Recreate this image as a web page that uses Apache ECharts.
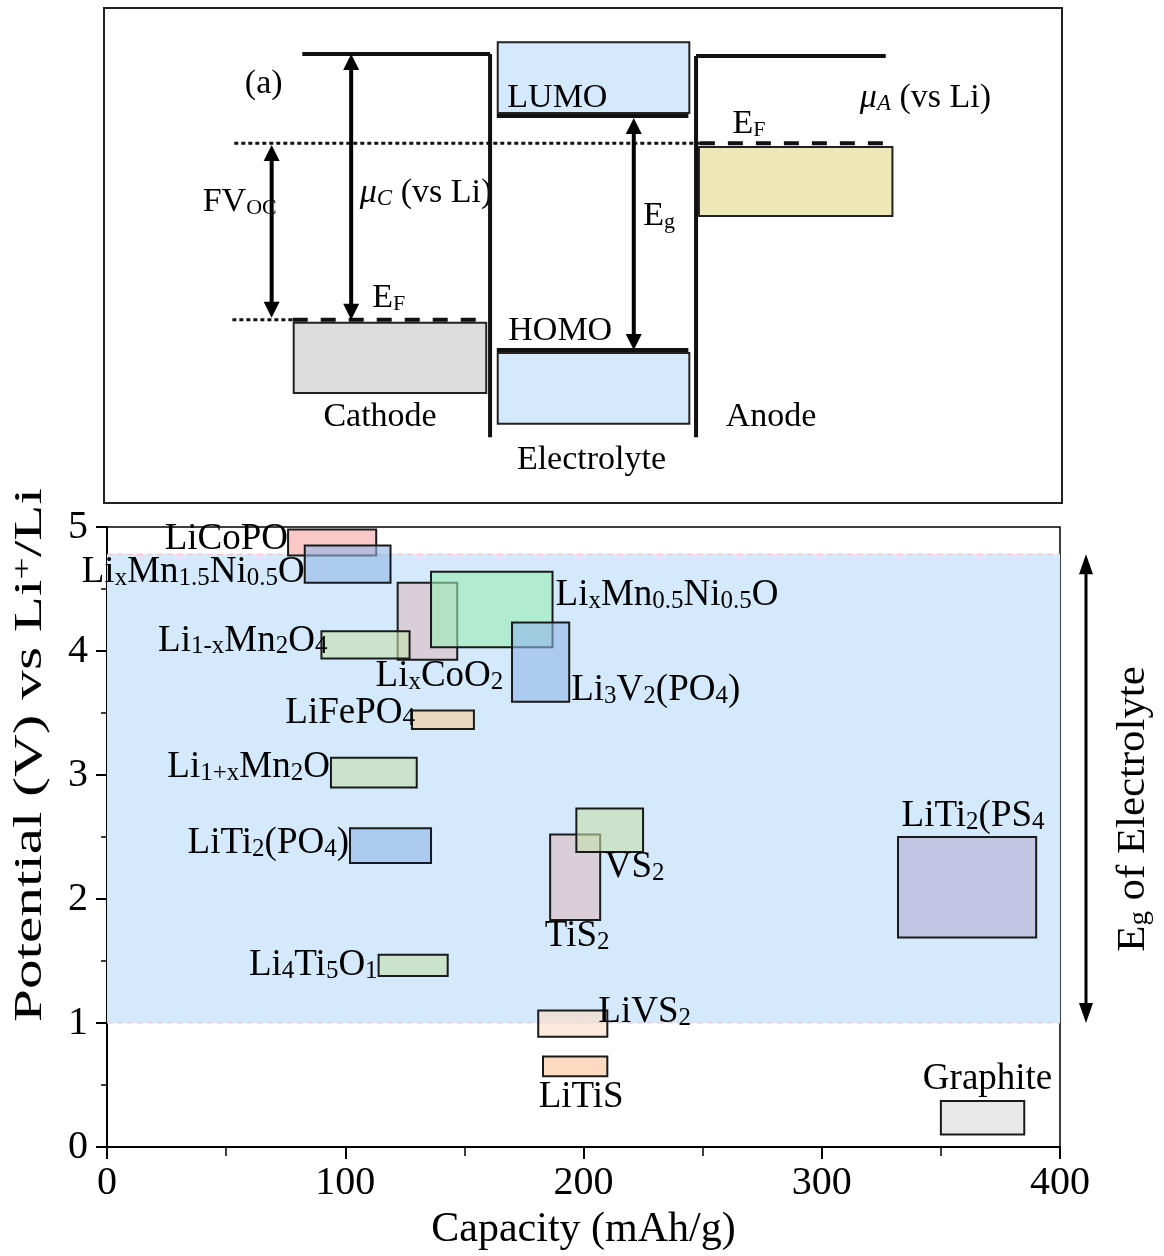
<!DOCTYPE html>
<html>
<head>
<meta charset="utf-8">
<script src="https://cdn.jsdelivr.net/npm/echarts@6/dist/echarts.min.js"></script>
<style>
  html, body { margin: 0; padding: 0; background: #fff; }
  #chart { width: 1164px; height: 1256px; }
</style>
</head>
<body>
<div id="chart"></div>
<script>
const SERIF = '"Liberation Serif", "Times New Roman", serif';

// ---------- panel (b): electrode materials ----------
const materials = ['LiCoPO4', 'LixMn1.5Ni0.5O4', 'LixCoO2', 'LixMn0.5Ni0.5O2', 'Li3V2(PO4)3',
  'Li1-xMn2O4', 'LiFePO4', 'Li1+xMn2O4', 'LiTi2(PO4)3', 'TiS2', 'VS2', 'LiTi2(PS4)3',
  'Li4Ti5O12', 'LiVS2', 'LiTiS2', 'Graphite'];
// labels as printed in the figure (some are cut off there)
const labels = [
  '{m|LiCoPO}',
  '{m|Li}{s|x}{m|Mn}{s|1.5}{m|Ni}{s|0.5}{m|O}',
  '{m|Li}{s|x}{m|CoO}{s|2}',
  '{m|Li}{s|x}{m|Mn}{s|0.5}{m|Ni}{s|0.5}{m|O}',
  '{m|Li}{s|3}{m|V}{s|2}{m|(PO}{s|4}{m|)}',
  '{m|Li}{s|1-x}{m|Mn}{s|2}{m|O}{s|4}',
  '{m|LiFePO}{s|4}',
  '{m|Li}{s|1+x}{m|Mn}{s|2}{m|O}',
  '{m|LiTi}{s|2}{m|(PO}{s|4}{m|)}',
  '{m|TiS}{s|2}',
  '{m|VS}{s|2}',
  '{m|LiTi}{s|2}{m|(PS}{s|4}',
  '{m|Li}{s|4}{m|Ti}{s|5}{m|O}{s|1}',
  '{m|LiVS}{s|2}',
  '{m|LiTiS}',
  '{m|Graphite}'
];
const capLo  = [76, 83, 122, 136, 170, 90, 128, 94, 102, 186, 197, 332, 114, 181, 183, 350];
const capHi  = [113, 119, 147, 187, 194, 127, 154, 130, 136, 207, 225, 390, 143, 210, 210, 385];
const voltLo = [4.77, 4.55, 3.93, 4.03, 3.59, 3.94, 3.37, 2.90, 2.29, 1.83, 2.38, 1.69, 1.38, 0.89, 0.57, 0.10];
const voltHi = [4.98, 4.85, 4.55, 4.64, 4.23, 4.16, 3.52, 3.14, 2.57, 2.52, 2.73, 2.50, 1.55, 1.10, 0.73, 0.37];
const eWindow = [1.0, 4.78];   // electrolyte stability window (V)

// styles for panel (b)
const fills = [
  'rgba(248,163,163,0.6)', 'rgba(145,182,230,0.6)', 'rgba(222,189,194,0.6)', 'rgba(155,237,179,0.6)',
  'rgba(145,182,230,0.6)', 'rgba(197,221,170,0.6)', 'rgba(249,201,152,0.6)', 'rgba(197,221,170,0.6)',
  'rgba(145,182,230,0.6)', 'rgba(222,189,194,0.6)', 'rgba(197,221,170,0.6)', 'rgba(182,171,211,0.6)',
  'rgba(197,221,170,0.6)', 'rgba(252,220,196,0.6)', 'rgba(250,193,153,0.6)', 'rgba(217,217,217,0.6)'
];
const labelSide = ['left', 'left', 'bottom', 'right', 'right', 'left', 'left', 'left',
  'left', 'bottom', 'bottom', 'top', 'left', 'right', 'bottom', 'top'];
const labelShift = [[0, -3], [0, 8], [12, -2], [3, -14], [2, 28], [6, -4], [3, -7], [-1, -5],
  [-1, -2], [2, -2], [25, -3], [6, -2], [-1, 0], [-9, -11], [6, 2], [5, -3]];

// ---------- panel (a): energy diagram, in diagram units (0-100) ----------
const levelLines = [
  [20.7, 90.7, 40.3, 90.7], [40.3, 90.7, 40.3, 13.3],
  [61.8, 90.3, 81.6, 90.3], [61.8, 90.3, 61.8, 13.3],
  [41.0, 78.2, 61.0, 78.2], [41.0, 30.9, 61.0, 30.9]
];
const dottedLines = [[13.6, 72.7, 62.2, 72.7], [13.4, 37.0, 19.7, 37.0]];
const dashedLines = [[62.2, 72.7, 81.5, 72.7], [19.7, 37.0, 39.4, 37.0]];
const arrows = [[17.5, 72.3, 17.5, 37.4], [25.8, 90.7, 25.8, 37.0], [55.3, 77.8, 55.3, 30.9]];
const boxes = [[41.1, 93.1, 61.1, 78.8], [41.1, 30.3, 61.1, 16.0], [19.8, 36.4, 39.9, 22.2], [62.1, 71.9, 82.3, 58.0]];
const boxFills = ['#d4eafc', '#d4eafc', '#dcdcdc', '#eee8b6'];
const schemTexts = [
  '{m|(a)}', '{m|LUMO}', '{i|μ}{is|A}{m| (vs Li)}', '{m|E}{s|F}', '{m|FV}{s|OC}',
  '{i|μ}{is|C}{m| (vs Li)}', '{m|E}{s|g}', '{m|E}{s|F}', '{m|HOMO}',
  '{m|Cathode}', '{m|Electrolyte}', '{m|Anode}'
];
const schemTextPos = [[14.7, 84.6], [42.1, 81.8], [78.9, 81.8], [65.6, 76.6], [10.3, 60.8],
  [26.7, 62.6], [56.3, 58.0], [28.0, 41.4], [42.2, 34.7], [22.9, 17.4], [43.1, 8.7], [64.9, 17.4]];

const labRich = {
  m: { fontFamily: SERIF, fontSize: 37, lineHeight: 37, verticalAlign: 'bottom', color: '#000' },
  s: { fontFamily: SERIF, fontSize: 25, lineHeight: 11, verticalAlign: 'bottom', color: '#000' }
};
const aRich = {
  m: { fontFamily: SERIF, fontSize: 34, lineHeight: 34, verticalAlign: 'bottom', color: '#000' },
  s: { fontFamily: SERIF, fontSize: 22, lineHeight: 12, verticalAlign: 'bottom', color: '#000' },
  i: { fontFamily: SERIF, fontStyle: 'italic', fontSize: 34, lineHeight: 34, verticalAlign: 'bottom', color: '#000' },
  is: { fontFamily: SERIF, fontStyle: 'italic', fontSize: 23, lineHeight: 14, verticalAlign: 'bottom', color: '#000' }
};
const titleRich = {
  m: { fontFamily: SERIF, fontSize: 40, lineHeight: 40, verticalAlign: 'bottom', color: '#000' },
  s: { fontFamily: SERIF, fontSize: 27, lineHeight: 14, verticalAlign: 'bottom', color: '#000' },
  p: { fontFamily: SERIF, fontSize: 27, lineHeight: 14, verticalAlign: 'top', color: '#000' }
};

const chart = echarts.init(document.getElementById('chart'), null, { renderer: 'canvas' });

function renderMaterial(params, api) {
  const i = params.dataIndex;
  const tl = api.coord([api.value(0), api.value(3)]);
  const br = api.coord([api.value(1), api.value(2)]);
  const x = tl[0], y = tl[1], w = br[0] - tl[0], h = br[1] - tl[1];
  let tx, ty, align, va;
  const side = labelSide[i];
  if (side === 'left') { tx = x; ty = y + h / 2; align = 'right'; va = 'middle'; }
  else if (side === 'right') { tx = x + w; ty = y + h / 2; align = 'left'; va = 'middle'; }
  else if (side === 'bottom') { tx = x + w / 2; ty = y + h; align = 'center'; va = 'top'; }
  else { tx = x + w / 2; ty = y; align = 'center'; va = 'bottom'; }
  return {
    type: 'group',
    children: [
      { type: 'rect', z2: 1, shape: { x: x, y: y, width: w, height: h },
        style: { fill: fills[i], stroke: '#1a1a1a', lineWidth: 2 } },
      { type: 'text', z2: 100,
        style: { x: tx + labelShift[i][0], y: ty + labelShift[i][1], text: labels[i], rich: labRich,
                 align: align, verticalAlign: va } }
    ]
  };
}

function renderWindow(params, api) {
  const tl = api.coord([api.value(0), api.value(3)]);
  const br = api.coord([api.value(1), api.value(2)]);
  const ax = br[0] + 26;
  const dash = { stroke: '#f4c4c4', lineWidth: 1.2, lineDash: [6, 4] };
  return {
    type: 'group',
    children: [
      { type: 'rect', shape: { x: tl[0], y: tl[1], width: br[0] - tl[0], height: br[1] - tl[1] },
        style: { fill: '#d4eafc' } },
      { type: 'line', shape: { x1: tl[0], y1: tl[1], x2: br[0], y2: tl[1] }, style: dash },
      { type: 'line', shape: { x1: tl[0], y1: br[1], x2: br[0], y2: br[1] }, style: dash },
      { type: 'line', shape: { x1: ax, y1: tl[1] + 12, x2: ax, y2: br[1] - 12 },
        style: { stroke: '#000', lineWidth: 3 } },
      { type: 'polygon', shape: { points: [[ax, tl[1]], [ax - 7, tl[1] + 20], [ax + 7, tl[1] + 20]] },
        style: { fill: '#000' } },
      { type: 'polygon', shape: { points: [[ax, br[1]], [ax - 7, br[1] - 20], [ax + 7, br[1] - 20]] },
        style: { fill: '#000' } }
    ]
  };
}

function segSeries(data, style, z) {
  return {
    type: 'custom', xAxisIndex: 1, yAxisIndex: 1, z: z, silent: true,
    data: data,
    renderItem: function (params, api) {
      const a = api.coord([api.value(0), api.value(1)]);
      const b = api.coord([api.value(2), api.value(3)]);
      return { type: 'line', shape: { x1: a[0], y1: a[1], x2: b[0], y2: b[1] }, style: style };
    }
  };
}

const arrowSeries = {
  type: 'custom', xAxisIndex: 1, yAxisIndex: 1, z: 6, silent: true,
  data: arrows,
  renderItem: function (params, api) {
    const a = api.coord([api.value(0), api.value(1)]);
    const b = api.coord([api.value(2), api.value(3)]);
    const hl = 16, hw = 8;
    return {
      type: 'group',
      children: [
        { type: 'line', shape: { x1: a[0], y1: a[1] + hl - 2, x2: b[0], y2: b[1] - hl + 2 },
          style: { stroke: '#000', lineWidth: 4 } },
        { type: 'polygon', shape: { points: [[a[0], a[1]], [a[0] - hw, a[1] + hl], [a[0] + hw, a[1] + hl]] },
          style: { fill: '#000' } },
        { type: 'polygon', shape: { points: [[b[0], b[1]], [b[0] - hw, b[1] - hl], [b[0] + hw, b[1] - hl]] },
          style: { fill: '#000' } }
      ]
    };
  }
};

const boxSeries = {
  type: 'custom', xAxisIndex: 1, yAxisIndex: 1, z: 3, silent: true,
  data: boxes,
  renderItem: function (params, api) {
    const a = api.coord([api.value(0), api.value(1)]);
    const b = api.coord([api.value(2), api.value(3)]);
    return { type: 'rect', shape: { x: a[0], y: a[1], width: b[0] - a[0], height: b[1] - a[1] },
             style: { fill: boxFills[params.dataIndex], stroke: '#222', lineWidth: 2 } };
  }
};

const textSeries = {
  type: 'custom', xAxisIndex: 1, yAxisIndex: 1, z: 4, silent: true,
  data: schemTextPos,
  renderItem: function (params, api) {
    const p = api.coord([api.value(0), api.value(1)]);
    return { type: 'text', style: { x: p[0], y: p[1], text: schemTexts[params.dataIndex], rich: aRich,
             align: 'left', verticalAlign: 'middle' } };
  }
};

const option = {
  animation: false,
  backgroundColor: '#fff',
  grid: [
    { left: 107, top: 527, width: 953, height: 620, show: true, borderColor: '#000', borderWidth: 1.5,
      backgroundColor: 'transparent' },
    { left: 104, top: 8, width: 958, height: 495, show: true, borderColor: '#222', borderWidth: 2,
      backgroundColor: 'transparent' }
  ],
  xAxis: [
    { gridIndex: 0, type: 'value', min: 0, max: 400, interval: 100,
      axisLine: { show: true, lineStyle: { color: '#000', width: 2 } },
      axisTick: { show: true, length: 12, lineStyle: { color: '#000', width: 2 } },
      minorTick: { show: true, splitNumber: 2, length: 9, lineStyle: { color: '#000', width: 1.5 } },
      splitLine: { show: false }, minorSplitLine: { show: false },
      axisLabel: { fontFamily: SERIF, fontSize: 40, color: '#000', margin: 16, showMinLabel: true, showMaxLabel: true },
      name: 'Capacity (mAh/g)', nameLocation: 'middle', nameGap: 62,
      nameTextStyle: { fontFamily: SERIF, fontSize: 42, color: '#000' } },
    { gridIndex: 1, type: 'value', min: 0, max: 100, show: false }
  ],
  yAxis: [
    { gridIndex: 0, type: 'value', min: 0, max: 5, interval: 1,
      axisLine: { show: true, lineStyle: { color: '#000', width: 2 } },
      axisTick: { show: true, length: 11, lineStyle: { color: '#000', width: 2 } },
      minorTick: { show: true, splitNumber: 2, length: 6, lineStyle: { color: '#000', width: 1.5 } },
      splitLine: { show: false }, minorSplitLine: { show: false },
      axisLabel: { fontFamily: SERIF, fontSize: 40, color: '#000', margin: 19, showMinLabel: true, showMaxLabel: true } },
    { gridIndex: 1, type: 'value', min: 0, max: 100, show: false }
  ],
  graphic: [
    { type: 'text', x: 30, y: 755, rotation: Math.PI / 2, scaleX: 1.48, silent: true,
      style: { text: '{m|Potential (V) vs Li}{p|+}{m|/Li}', rich: titleRich, align: 'center', verticalAlign: 'middle' } },
    { type: 'text', x: 1133, y: 809, rotation: Math.PI / 2, scaleX: 1.07, silent: true,
      style: { text: '{m|E}{s|g}{m| of Electrolyte}', rich: titleRich, align: 'center', verticalAlign: 'middle' } },
    { type: 'text', x: 983, y: 579, silent: true,
      style: { text: '(b)', fontFamily: SERIF, fontSize: 36, fill: '#000', align: 'center', verticalAlign: 'middle' } }
  ],
  series: [
    { type: 'custom', xAxisIndex: 0, yAxisIndex: 0, z: 2, silent: true,
      data: [[0, 400, eWindow[0], eWindow[1]]], renderItem: renderWindow },
    { type: 'custom', name: 'materials', xAxisIndex: 0, yAxisIndex: 0, z: 3, silent: true,
      data: materials.map(function (m, i) { return [capLo[i], capHi[i], voltLo[i], voltHi[i]]; }),
      renderItem: renderMaterial },
    boxSeries,
    textSeries,
    segSeries(levelLines, { stroke: '#111', lineWidth: 4 }, 5),
    segSeries(dottedLines, { stroke: '#111', lineWidth: 3, lineDash: [4, 3] }, 5),
    segSeries(dashedLines, { stroke: '#111', lineWidth: 4, lineDash: [15, 13] }, 5),
    arrowSeries
  ]
};

chart.setOption(option);
</script>
</body>
</html>
